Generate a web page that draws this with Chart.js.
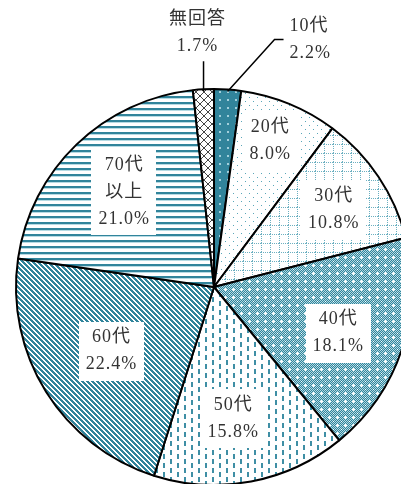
<!DOCTYPE html>
<html>
<head>
<meta charset="utf-8">
<script src="https://cdn.jsdelivr.net/npm/chart.js@4"></script>
<style>
  html, body { margin: 0; padding: 0; background: #fff; overflow: hidden; }
  #wrap { position: absolute; left: 0; top: 0; width: 430px; height: 490px; }
</style>
</head>
<body>
<div id="wrap"><canvas id="chart"></canvas></div>
<script>
(() => {
    // 年代別の割合（%）
    const categories = ["10代", "20代", "30代", "40代", "50代", "60代", "70代\n以上", "無回答"];
    const shares = [2.2, 8.0, 10.8, 18.1, 15.8, 22.4, 21.0, 1.7];

    const teal = "#31849b";
    const $ = query => document.querySelector(query);

    const tile = (w, h, draw) => {
        const c = document.createElement("canvas");
        c.width = w;
        c.height = h;
        const g = c.getContext("2d");
        g.fillStyle = "#fff";
        g.fillRect(0, 0, w, h);
        draw(g, w, h);
        return g.createPattern(c, "repeat");
    };
    const px = (g, color, x, y, w = 1, h = 1) => {
        g.fillStyle = color;
        g.fillRect(x, y, w, h);
    };

    const patterns = [
        // 10代: 濃い塗り＋白っぽいドット
        tile(8, 8, (g, w, h) => {
            px(g, teal, 0, 0, w, h);
            px(g, "#a3d0dc", 3, 3, 2, 2);
        }),
        // 20代: まばらなドット
        tile(8, 8, g => {
            px(g, "#5aa6b9", 1, 1);
            px(g, "#5aa6b9", 5, 5);
        }),
        // 30代: 点線の格子
        tile(9, 9, g => {
            for (let i = 0; i < 9; i += 2) {
                px(g, "#6cb0c1", i, 0);
                px(g, "#6cb0c1", 0, i);
            }
        }),
        // 40代: 細かい市松＋白い点
        tile(8, 8, g => {
            for (let y = 0; y < 8; y++)
                for (let x = 0; x < 8; x++)
                    px(g, (x + y) % 2 ? teal : "#b3dae3", x, y);
            const c = "#fff";
            px(g, c, 1, 0); px(g, c, 0, 1); px(g, c, 1, 1); px(g, c, 2, 1); px(g, c, 1, 2);
            px(g, c, 5, 5);
        }),
        // 50代: 縦の破線
        tile(14, 9, g => {
            px(g, "#3f8fa5", 2, 0, 2, 5);
            px(g, "#3f8fa5", 9, 4, 2, 5);
        }),
        // 60代: 斜線
        tile(5, 5, g => {
            for (let y = 0; y < 5; y++)
                for (let x = 0; x < 5; x++)
                    if (((x - y) % 5 + 5) % 5 < 3) px(g, teal, x, y);
        }),
        // 70代以上: 横線
        tile(6, 6, (g, w) => {
            px(g, teal, 0, 0, w, 2);
            px(g, "#b7dbe4", 0, 2, w, 1);
        }),
        // 無回答: 菱形の格子
        tile(8, 8, g => {
            for (let i = 0; i < 8; i++) {
                px(g, "#444", i, i);
                px(g, "#444", 7 - i, i);
            }
        }),
    ];

    // ラベル配置（半径比・角度補正、外側はリーダー線）
    const placement = [
        { lead: [[47, -52], [56, -52]], text: { dx: 6, dy: 0, align: "left" } },
        { r: 0.79, da: -1.2 },
        { r: 0.72, da: 1 },
        { r: 0.67, da: 2.2 },
        { r: 0.67, da: 2.5 },
        { r: 0.61, da: 0 },
        { r: 0.66, da: 0.5 },
        { lead: [[0, -30]], text: { dx: -6, dy: -28, align: "center" } },
    ];

    const lineH = 27;
    const font = '18px "Liberation Serif", "Noto Sans CJK JP", serif';

    const sliceLabels = {
        id: "sliceLabels",
        afterDatasetsDraw(chart) {
            const ctx = chart.ctx;
            const meta = chart.getDatasetMeta(0);
            ctx.save();
            ctx.font = font;
            ctx.letterSpacing = "1px";
            ctx.textBaseline = "middle";
            meta.data.forEach((arc, i) => {
                const { x, y, startAngle, endAngle, outerRadius } =
                    arc.getProps(["x", "y", "startAngle", "endAngle", "outerRadius"], true);
                const mid = (startAngle + endAngle) / 2;
                const lines = [...categories[i].split("\n"), shares[i].toFixed(1) + "%"];
                const p = placement[i];
                let cx, cy, align = "center";
                if (p.lead) {
                    const sx = x + outerRadius * 0.99 * Math.cos(mid);
                    const sy = y + outerRadius * 0.99 * Math.sin(mid);
                    ctx.strokeStyle = "#000";
                    ctx.lineWidth = 1.5;
                    ctx.beginPath();
                    ctx.moveTo(sx, sy);
                    let ex = sx, ey = sy;
                    p.lead.forEach(([dx, dy]) => {
                        ex = sx + dx;
                        ey = sy + dy;
                        ctx.lineTo(ex, ey);
                    });
                    ctx.stroke();
                    cx = ex + p.text.dx;
                    cy = ey + p.text.dy;
                    align = p.text.align;
                } else {
                    const a = mid + p.da * Math.PI / 180;
                    cx = x + outerRadius * p.r * Math.cos(a);
                    cy = y + outerRadius * p.r * Math.sin(a);
                    const w = Math.max(...lines.map(t => ctx.measureText(t).width)) + 14;
                    const h = lines.length * lineH + 5;
                    ctx.fillStyle = "#fff";
                    ctx.fillRect(Math.round(cx - w / 2), Math.round(cy - h / 2), Math.round(w), Math.round(h));
                }
                ctx.fillStyle = "#333";
                ctx.textAlign = align;
                lines.forEach((t, k) => {
                    ctx.fillText(t, cx, cy + (k - (lines.length - 1) / 2) * lineH);
                });
            });
            ctx.restore();
        }
    };

    new Chart($("#chart"), {
        type: "pie",
        data: {
            labels: categories,
            datasets: [{
                data: shares,
                backgroundColor: patterns,
                borderColor: "#000",
                borderWidth: 2,
            }]
        },
        options: {
            responsive: true,
            maintainAspectRatio: false,
            animation: false,
            layout: { padding: { left: 15, right: 17, top: 88, bottom: 4 } },
            plugins: {
                legend: { display: false },
                tooltip: { enabled: false },
            },
        },
        plugins: [sliceLabels],
    });
})();
</script>
</body>
</html>
